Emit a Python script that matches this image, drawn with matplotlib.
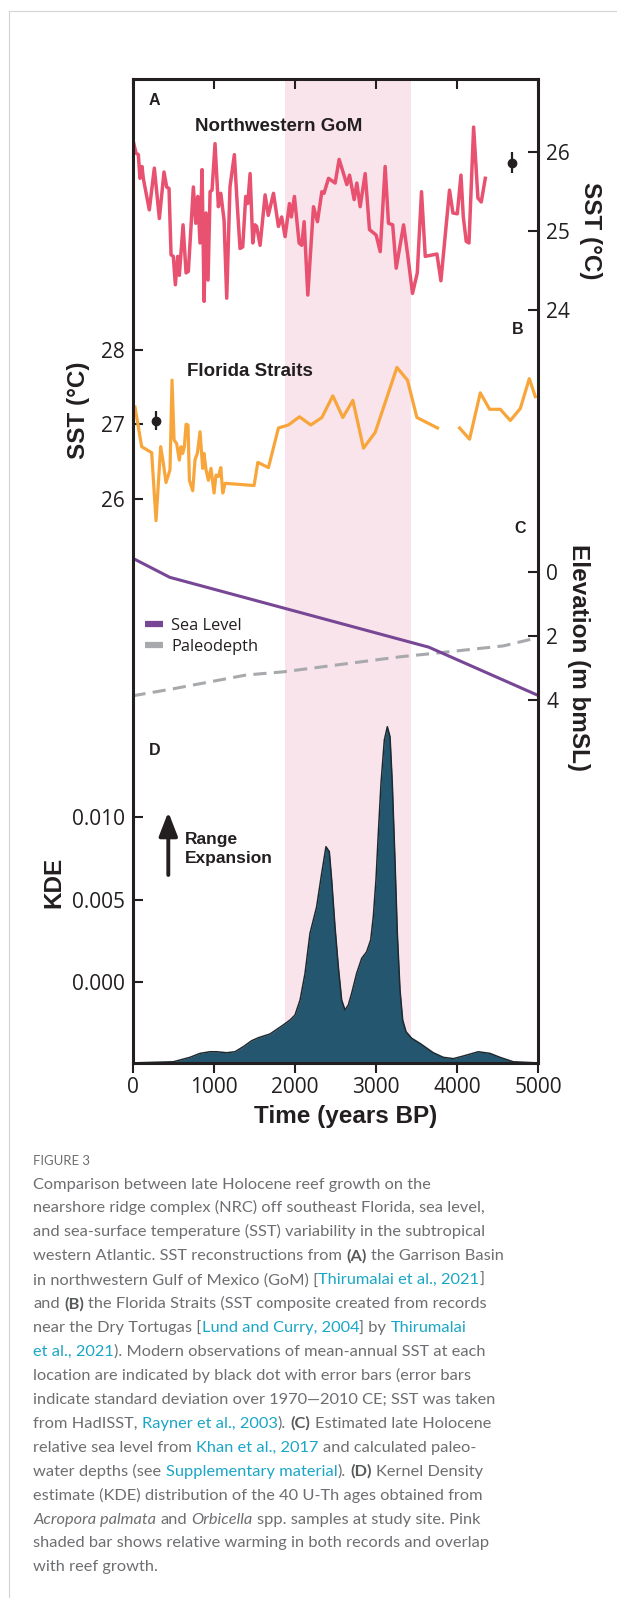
import matplotlib
matplotlib.use("Agg")
import matplotlib.pyplot as plt
from matplotlib.lines import Line2D
import numpy as np

# ---------------- data ----------------
years_ticks = [0, 1000, 2000, 3000, 4000, 5000]
warm_start, warm_end = 1885, 3430

gom_year = [0, 43, 72, 92, 117, 133, 207, 269, 331, 388, 421, 450, 475, 503, 528, 557, 577, 623, 660, 688,
            750, 779, 804, 832, 857, 882, 906, 931, 956, 980, 1017, 1058, 1088, 1128, 1161, 1201, 1255, 1292,
            1325, 1358, 1395, 1420, 1449, 1482, 1510, 1530, 1572, 1634, 1673, 1737, 1798, 1838, 1880, 1934,
            1957, 1995, 2053, 2085, 2115, 2160, 2230, 2279, 2333, 2360, 2415, 2497, 2546, 2600, 2641, 2674,
            2731, 2764, 2805, 2867, 2920, 3002, 3052, 3113, 3154, 3206, 3249, 3340, 3388, 3450, 3509, 3561,
            3607, 3751, 3800, 3906, 3948, 4002, 4047, 4076, 4112, 4146, 4203, 4256, 4297, 4347]
gom_sst = [26.18, 25.99, 25.97, 25.67, 25.82, 25.67, 25.27, 25.80, 25.16, 25.75, 25.56, 25.54, 24.70, 24.68,
           24.32, 24.68, 24.44, 25.08, 24.47, 24.49, 25.56, 25.10, 25.44, 24.85, 25.78, 24.11, 25.23, 24.38,
           25.50, 25.52, 26.11, 25.31, 25.48, 25.14, 24.15, 25.56, 25.97, 25.31, 24.78, 24.80, 25.44, 25.35,
           25.73, 24.85, 25.08, 25.06, 24.82, 25.46, 25.20, 25.48, 25.06, 25.18, 24.93, 25.35, 25.18, 25.44,
           24.85, 24.82, 25.12, 24.19, 25.31, 25.12, 25.50, 25.48, 25.67, 25.61, 25.91, 25.73, 25.59, 25.71,
           25.40, 25.61, 25.31, 25.73, 25.02, 24.95, 24.74, 25.82, 25.10, 25.08, 24.53, 25.08, 24.72, 24.21,
           24.47, 25.50, 24.68, 24.71, 24.37, 25.52, 25.23, 25.22, 25.71, 25.18, 24.87, 24.85, 26.32, 25.42,
           25.37, 25.67]
gom_modern_year, gom_modern_sst, gom_modern_sd = 4680, 25.87, 0.13

fl_year = [31, 113, 175, 236, 290, 347, 380, 413, 462, 487, 512, 544, 577, 598, 618, 639, 660, 684, 701, 742,
           771, 799, 832, 865, 881, 906, 935, 967, 1005, 1029, 1058, 1088, 1112, 1141, 1498, 1544, 1675, 1798,
           1921, 2057, 2197, 2333, 2468, 2592, 2715, 2846, 2990, 3258, 3388, 3504, 3758, np.nan, 4030, 4153,
           4285, 4400, 4532, 4655, 4778, 4889, 4963]
fl_sst = [27.23, 26.70, 26.66, 26.62, 25.71, 26.70, 26.48, 26.22, 26.39, 27.59, 26.79, 26.74, 26.52, 26.70,
          26.61, 26.70, 27.00, 26.99, 26.25, 26.11, 26.53, 26.61, 26.90, 26.41, 26.61, 26.39, 26.25, 26.41,
          26.08, 26.32, 26.30, 26.42, 26.08, 26.21, 26.18, 26.49, 26.42, 26.95, 26.99, 27.10, 26.99, 27.09,
          27.38, 27.09, 27.32, 26.68, 26.89, 27.76, 27.59, 27.09, 26.95, np.nan, 26.95, 26.80, 27.42, 27.20,
          27.20, 27.05, 27.21, 27.61, 27.37]
fl_modern_year, fl_modern_sst, fl_modern_sd = 290, 27.05, 0.13

sl_year = [0, 460, 3650, 5000]
sl_elev = [-0.43, 0.17, 2.35, 3.86]
pd_year = [0, 500, 1400, 1860, 3300, 3730, 4570, 5000]
pd_elev = [3.87, 3.65, 3.22, 3.12, 2.65, 2.54, 2.31, 2.05]

kde_year = [0, 503, 708, 832, 955, 1037, 1160, 1263, 1366, 1468, 1550, 1694, 1858, 1941, 2002, 2065, 2126,
            2187, 2269, 2331, 2384, 2425, 2454, 2495, 2536, 2577, 2618, 2659, 2700, 2762, 2824, 2885, 2935,
            2967, 3000, 3029, 3062, 3103, 3140, 3173, 3201, 3234, 3263, 3296, 3329, 3370, 3440, 3542, 3706,
            3830, 3953, 4076, 4261, 4405, 4528, 4692, 5000]
kde_val = [-0.00494, -0.00487, -0.00460, -0.00436, -0.00426, -0.00426, -0.00432, -0.00426, -0.00395,
           -0.00359, -0.00341, -0.00318, -0.00263, -0.00233, -0.00203, -0.00111, 0.00051, 0.00294, 0.00456,
           0.00659, 0.00821, 0.00791, 0.00619, 0.00335, 0.00091, -0.00111, -0.00172, -0.00142, -0.00071,
           0.00051, 0.00142, 0.00182, 0.00254, 0.00395, 0.00619, 0.00903, 0.01207, 0.01470, 0.01551, 0.01490,
           0.01207, 0.00740, 0.00294, -0.00050, -0.00233, -0.00304, -0.00344, -0.00375, -0.00432, -0.00460,
           -0.00468, -0.00452, -0.00426, -0.00436, -0.00460, -0.00487, -0.00494]

gom_ticks = [24, 25, 26]
fl_ticks = [26, 27, 28]
elev_ticks = [0, 2, 4]
kde_ticks = [0.000, 0.005, 0.010]

# ---------------- styling ----------------
W, H = 617, 1598
INK = '#231f20'
PINK = '#f9e4ec'
RED = '#e8516f'
ORANGE = '#f8a63b'
PURPLE = '#774796'
GREY = '#a7a9ac'
KDE_FILL = '#245670'
BOLD = 'Liberation Sans'
TICKF = 'Open Sans'

BOX_L, BOX_R, BOX_T, BOX_B = 132.5, 538.3, 78.7, 1062.7
rect = [BOX_L / W, 1 - BOX_B / H, (BOX_R - BOX_L) / W, (BOX_B - BOX_T) / H]


def lim(v1, p1, v2, p2):
    s = (v2 - v1) / (p2 - p1)
    return v1 + (BOX_B - p1) * s, v1 + (BOX_T - p1) * s


def axf(px, py):
    return (px - BOX_L) / (BOX_R - BOX_L), (BOX_B - py) / (BOX_B - BOX_T)


fig = plt.figure(figsize=(W / 100, H / 100), dpi=100)
fig.patch.set_facecolor('white')

# page frame
fig.add_artist(Line2D([9.3 / W, 9.3 / W], [0, 1 - 11 / H], transform=fig.transFigure, color='#d3d3d3', lw=0.8))
fig.add_artist(Line2D([9.3 / W, 1], [1 - 11 / H, 1 - 11 / H], transform=fig.transFigure, color='#d3d3d3', lw=0.8))

# background with pink band
bg = fig.add_axes(rect)
bg.set_xlim(0, 5000)
bg.set_ylim(0, 1)
bg.axvspan(warm_start, warm_end, color=PINK, lw=0)
bg.axis('off')


def panel(ylims, ticks, side, fmt=None):
    ax = fig.add_axes(rect)
    ax.set_facecolor('none')
    for s in ax.spines.values():
        s.set_visible(False)
    ax.set_xlim(0, 5000)
    ax.set_ylim(*ylims)
    ax.tick_params(axis='x', bottom=False, labelbottom=False)
    ax.set_yticks(ticks)
    if fmt:
        ax.set_yticklabels([fmt % t for t in ticks])
    if side == 'right':
        ax.yaxis.tick_right()
        ax.tick_params(axis='y', left=False, labelleft=False, right=True, labelright=True)
    ax.tick_params(axis='y', direction='in', length=7.2, width=1.5, colors=INK, pad=5.6, labelsize=15)
    for lab in ax.get_yticklabels():
        lab.set_family(TICKF)
    return ax


axA = panel(lim(26, 152.3, 24, 310), gom_ticks, 'right')
axA.plot(gom_year, gom_sst, color=RED, lw=2.5, solid_joinstyle='round')
axA.errorbar([gom_modern_year], [gom_modern_sst], yerr=[gom_modern_sd], fmt='o', color=INK, ms=6,
             elinewidth=1.6, capsize=0)

axB = panel(lim(28, 349.5, 26, 499), fl_ticks, 'left')
axB.plot(fl_year, fl_sst, color=ORANGE, lw=2.3, solid_joinstyle='round')
axB.errorbar([fl_modern_year], [fl_modern_sst], yerr=[fl_modern_sd], fmt='o', color=INK, ms=6,
             elinewidth=1.6, capsize=0)

axC = panel(lim(0, 571.9, 4, 700), elev_ticks, 'right')
axC.plot(pd_year, pd_elev, color=GREY, lw=2.2, linestyle=(0, (4.3, 2.4)))
axC.plot(sl_year, sl_elev, color=PURPLE, lw=2.2)
handles = [Line2D([], [], color=PURPLE, lw=4.5, solid_capstyle='butt'),
           Line2D([], [], color=GREY, lw=4.5, solid_capstyle='butt')]
axC.legend(handles, ['Sea Level', 'Paleodepth'], loc='upper left', bbox_to_anchor=axf(145, 618),
           frameon=False, borderpad=0, borderaxespad=0, handlelength=1.1, handletextpad=0.5,
           labelspacing=0.3, prop=dict(family=TICKF, size=11.8), labelcolor=INK)

kde_lims = lim(0.0, 981.7, 0.010, 817.3)
axD = panel(kde_lims, kde_ticks, 'left', fmt='%.3f')
axD.fill_between(kde_year, kde_val, kde_lims[0], color=KDE_FILL, lw=0)
axD.plot(kde_year, kde_val, color='#1e2a30', lw=1.1)

# frame on top
fr = fig.add_axes(rect)
fr.set_facecolor('none')
fr.set_xlim(0, 5000)
fr.set_ylim(0, 1)
fr.set_yticks([])
fr.set_xticks(years_ticks)
fr.tick_params(axis='x', direction='out', length=7.2, width=1.5, colors=INK, pad=3, labelsize=15)
for lab in fr.get_xticklabels():
    lab.set_family(TICKF)
for s in fr.spines.values():
    s.set_linewidth(2.2)
    s.set_color(INK)
top = fr.secondary_xaxis('top')
top.set_xticks(years_ticks)
top.tick_params(direction='in', length=7.2, width=1.5, colors=INK, labeltop=False)
fr.tick_params(axis='x', top=False)


def T(px, py, s, **kw):
    x, y = axf(px, py)
    fr.text(x, y, s, transform=fr.transAxes, clip_on=False, **kw)


bold = dict(family=BOLD, weight='bold', color=INK)
for lab, (px, py) in zip('ABCD', [(154.3, 100.7), (517.5, 330), (520, 528.3), (154.3, 750.7)]):
    T(px, py, lab, ha='center', va='center', size=11.5, **bold)
T(278.3, 126.7, 'Northwestern GoM', ha='center', va='center', size=13.5, **bold)
T(250.3, 371.7, 'Florida Straits', ha='center', va='center', size=13.5, **bold)
T(185, 849, 'Range\nExpansion', ha='left', va='center', size=12.5, linespacing=1.3, **bold)
fr.annotate('', xy=axf(168.3, 812), xytext=axf(168.3, 875), xycoords='axes fraction',
            textcoords='axes fraction',
            arrowprops=dict(arrowstyle='-|>,head_length=0.9,head_width=0.35', lw=2.8, color=INK,
                            mutation_scale=16, shrinkA=0, shrinkB=0))

T(590.7, 231, 'SST (°C)', ha='center', va='center', rotation=270, size=17.5, **bold)
T(79, 410, 'SST (°C)', ha='center', va='center', rotation=90, size=17.5, **bold)
T(578.3, 658, 'Elevation (m bmSL)', ha='center', va='center', rotation=270, size=17.5, **bold)
T(54, 882, 'KDE', ha='center', va='center', rotation=90, size=17.5, **bold)
T(345.8, 1116.5, 'Time (years BP)', ha='center', va='center', size=17.5, **bold)

# ---------------- caption ----------------
cap_lines = [
    [("Comparison between late Holocene reef growth on the", "n")],
    [("nearshore ridge complex (NRC) off southeast Florida, sea level,", "n")],
    [("and sea-surface temperature (SST) variability in the subtropical", "n")],
    [("western Atlantic. SST reconstructions from ", "n"), ("(A)", "b"), (" the Garrison Basin", "n")],
    [("in northwestern Gulf of Mexico (GoM) [", "n"), ("Thirumalai et al., 2021", "l"), ("]", "n")],
    [("and ", "n"), ("(B)", "b"), (" the Florida Straits (SST composite created from records", "n")],
    [("near the Dry Tortugas [", "n"), ("Lund and Curry, 2004", "l"), ("] by ", "n"), ("Thirumalai", "l")],
    [("et al., 2021", "l"), ("). Modern observations of mean-annual SST at each", "n")],
    [("location are indicated by black dot with error bars (error bars", "n")],
    [("indicate standard deviation over 1970\u20142010 CE; SST was taken", "n")],
    [("from HadISST, ", "n"), ("Rayner et al., 2003", "l"), ("). ", "n"), ("(C)", "b"),
     (" Estimated late Holocene", "n")],
    [("relative sea level from ", "n"), ("Khan et al., 2017", "l"), (" and calculated paleo-", "n")],
    [("water depths (see ", "n"), ("Supplementary material", "l"), ("). ", "n"), ("(D)", "b"),
     (" Kernel Density", "n")],
    [("estimate (KDE) distribution of the 40 U-Th ages obtained from", "n")],
    [("Acropora palmata", "i"), (" and ", "n"), ("Orbicella", "i"), (" spp. samples at study site. Pink", "n")],
    [("shaded bar shows relative warming in both records and overlap", "n")],
    [("with reef growth.", "n")],
]
CAPF = 'Lato'
GRAYTXT = '#6d6e71'
styles = {
    'n': dict(family=CAPF, color=GRAYTXT),
    'b': dict(family=CAPF, color='#58595b', weight='bold'),
    'l': dict(family=CAPF, color='#1aa6c6'),
    'i': dict(family=CAPF, color=GRAYTXT, style='italic'),
}
renderer = fig.canvas.get_renderer()


def width(s, size, st):
    t = fig.text(0, 0, s, size=size, **styles[st])
    w = t.get_window_extent(renderer).width
    t.remove()
    return w


def adv(s, size, st):
    return width('I' + s + 'I', size, st) - width('II', size, st)


# fit caption size so line 2 spans ~450 px
w10 = adv(cap_lines[1][0][0], 10, 'n')
cap_size = 10 * 450.0 / w10

fig.text(33.3 / W, 1 - 1165 / H, 'FIGURE 3', size=cap_size * 0.8, va='baseline', **styles['n'])
x0 = 33.3
for k, line in enumerate(cap_lines):
    yb = 1188.5 + 23.93 * k
    x = x0
    for seg, st in line:
        sp = adv(' ', cap_size, st)
        core = seg.strip(' ')
        nl = len(seg) - len(seg.lstrip(' '))
        nt = len(seg) - len(seg.rstrip(' '))
        x += nl * sp
        fig.text(x / W, 1 - yb / H, core, size=cap_size, va='baseline', **styles[st])
        x += adv(core, cap_size, st) + nt * sp

fig.savefig('out.png', dpi=100, facecolor='white')
